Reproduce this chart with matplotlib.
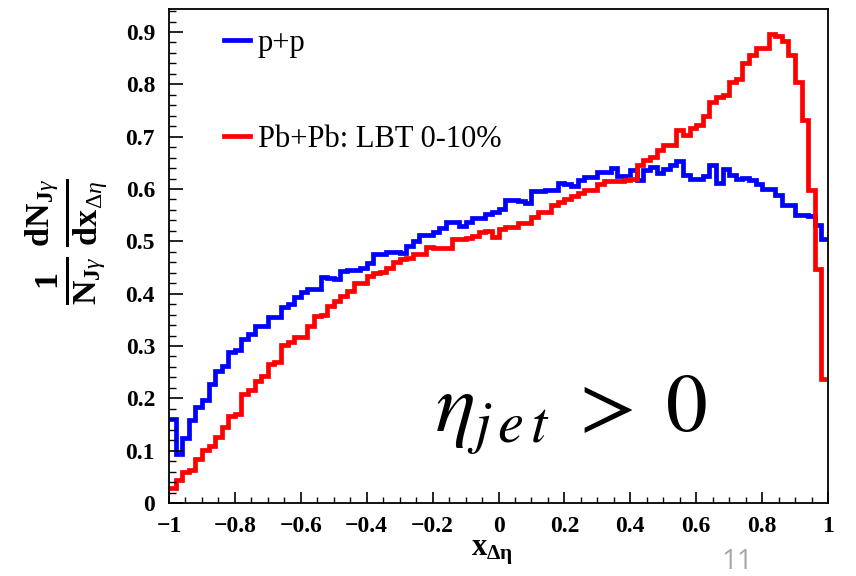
"""Jet-photon x_deta distributions: p+p vs Pb+Pb (LBT 0-10%), eta_jet > 0."""

import numpy as np
from matplotlib import pyplot as plt
from matplotlib.ticker import MultipleLocator

plt.rcParams["mathtext.fontset"] = "custom"
plt.rcParams["mathtext.rm"] = "Liberation Serif"
plt.rcParams["mathtext.it"] = "Liberation Serif:italic"
plt.rcParams["mathtext.bf"] = "Liberation Serif:bold"

# 100 bins of width 0.02 on [-1, 1]
bin_edges = np.linspace(-1.0, 1.0, 101)

pp_values = [
    0.161, 0.094, 0.125, 0.158, 0.183, 0.196, 0.228, 0.253, 0.262, 0.288,
    0.292, 0.313, 0.323, 0.339, 0.339, 0.356, 0.356, 0.375, 0.381, 0.394,
    0.404, 0.409, 0.409, 0.431, 0.430, 0.428, 0.443, 0.445, 0.445, 0.450,
    0.459, 0.475, 0.475, 0.480, 0.480, 0.478, 0.492, 0.501, 0.513, 0.513,
    0.518, 0.526, 0.537, 0.537, 0.530, 0.537, 0.545, 0.545, 0.553, 0.556,
    0.562, 0.579, 0.579, 0.577, 0.574, 0.596, 0.596, 0.598, 0.598, 0.612,
    0.610, 0.605, 0.618, 0.623, 0.623, 0.632, 0.632, 0.640, 0.624, 0.624,
    0.636, 0.618, 0.636, 0.643, 0.631, 0.638, 0.645, 0.653, 0.626, 0.619,
    0.619, 0.625, 0.645, 0.612, 0.638, 0.626, 0.619, 0.621, 0.618, 0.610,
    0.600, 0.600, 0.588, 0.570, 0.570, 0.551, 0.551, 0.549, 0.532, 0.504,
]

pbpb_values = [
    0.028, 0.043, 0.059, 0.064, 0.085, 0.101, 0.108, 0.127, 0.145, 0.167,
    0.171, 0.209, 0.215, 0.234, 0.243, 0.266, 0.269, 0.301, 0.307, 0.318,
    0.318, 0.339, 0.358, 0.360, 0.377, 0.386, 0.395, 0.405, 0.420, 0.420,
    0.433, 0.439, 0.442, 0.450, 0.461, 0.466, 0.469, 0.475, 0.475, 0.490,
    0.488, 0.488, 0.488, 0.505, 0.505, 0.507, 0.510, 0.518, 0.520, 0.508,
    0.524, 0.528, 0.528, 0.536, 0.536, 0.547, 0.556, 0.556, 0.570, 0.575,
    0.581, 0.586, 0.593, 0.598, 0.598, 0.609, 0.615, 0.615, 0.615, 0.618,
    0.620, 0.645, 0.655, 0.662, 0.675, 0.685, 0.685, 0.713, 0.704, 0.716,
    0.722, 0.739, 0.767, 0.776, 0.780, 0.805, 0.810, 0.840, 0.856, 0.869,
    0.869, 0.897, 0.892, 0.882, 0.856, 0.805, 0.732, 0.598, 0.447, 0.237,
]

series_labels = ["p+p", "Pb+Pb: LBT 0-10%"]
series_colors = ["#0000ff", "#ff0000"]

x_ticks = [-1, -0.8, -0.6, -0.4, -0.2, 0, 0.2, 0.4, 0.6, 0.8, 1]
x_tick_labels = ["\u22121", "\u22120.8", "\u22120.6", "\u22120.4", "\u22120.2",
                 "0", "0.2", "0.4", "0.6", "0.8", "1"]
y_ticks = [0, 0.1, 0.2, 0.3, 0.4, 0.5, 0.6, 0.7, 0.8, 0.9]
y_tick_labels = ["0", "0.1", "0.2", "0.3", "0.4", "0.5", "0.6", "0.7", "0.8", "0.9"]

fig = plt.figure(figsize=(8.56, 5.76), dpi=100)
ax = fig.add_axes([169 / 856, 1 - 503 / 576, 659 / 856, 494 / 576])

for vals, label, color in zip([pp_values, pbpb_values], series_labels, series_colors):
    ax.stairs(vals, bin_edges, color=color, lw=3.4, label=label, baseline=None)

ax.set_xlim(-1, 1)
ax.set_ylim(0, 0.944)

ax.set_xticks(x_ticks)
ax.set_xticklabels(x_tick_labels)
ax.set_yticks(y_ticks)
ax.set_yticklabels(y_tick_labels)
ax.xaxis.set_minor_locator(MultipleLocator(0.05))
ax.yaxis.set_minor_locator(MultipleLocator(0.02))

ax.tick_params(axis="x", which="major", direction="in", length=8, width=1.2, pad=9)
ax.tick_params(axis="x", which="minor", direction="in", length=4, width=1.0)
ax.tick_params(axis="y", which="major", direction="in", length=10, width=1.2, pad=10)
ax.tick_params(axis="y", which="minor", direction="in", length=5, width=1.0)
for lab in ax.get_xticklabels() + ax.get_yticklabels():
    lab.set_fontfamily("Liberation Serif")
    lab.set_fontweight("bold")
    lab.set_fontsize(17)

for spine in ax.spines.values():
    spine.set_linewidth(1.3)

ax.set_xlabel(r"$\mathbf{x}_{\mathbf{\Delta\eta}}$", fontsize=22)
ax.xaxis.set_label_coords(0.49, -0.07)
ax.set_ylabel(
    r"$\frac{\mathbf{1}}{\mathbf{N}_{\mathbf{J}\gamma}}\,"
    r"\frac{\mathbf{dN}_{\mathbf{J}\gamma}}{\mathbf{dx}_{\Delta\eta}}$",
    fontsize=35,
)
ax.yaxis.set_label_coords(-0.09, 0.53)

ax.legend(
    loc="upper left",
    bbox_to_anchor=(0.065, 0.985),
    frameon=False,
    prop={"family": "Liberation Serif", "size": 22},
    handlelength=0.85,
    handletextpad=0.25,
    labelspacing=2.2,
    borderaxespad=0.0,
)

ax.text(0.404, 0.136 / 0.944, r"$\eta_{j\,e\,t}\;>\;0$", transform=ax.transAxes,
        fontsize=60, math_fontfamily="stix", va="baseline", ha="left")

fig.text(737 / 856, 1 - 562 / 576, "11", color="#a6a6a6", fontsize=20,
         family="Open Sans", ha="center", va="center")

fig.savefig("out.png", dpi=100, facecolor="white")
